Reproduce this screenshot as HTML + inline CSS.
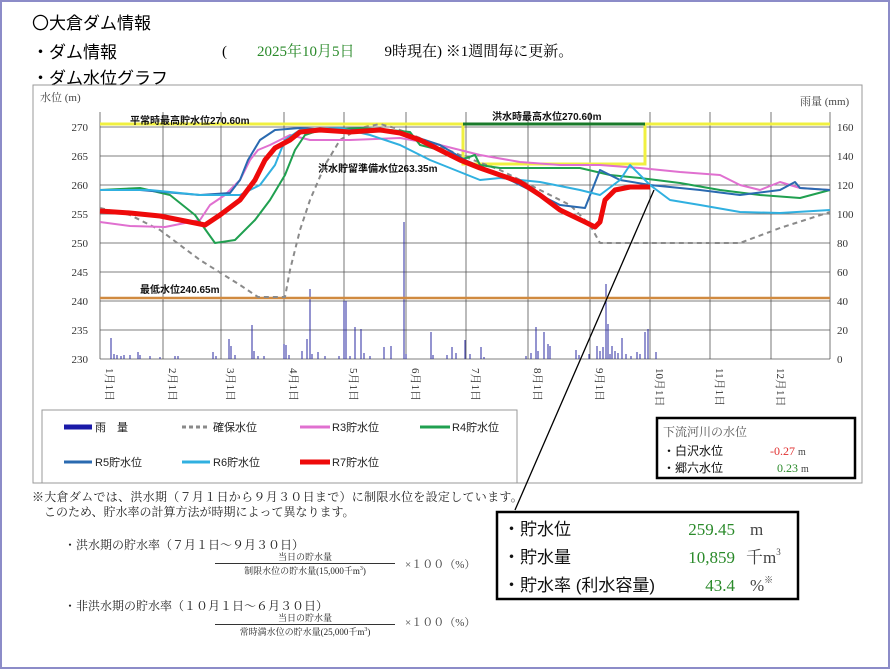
<!DOCTYPE html>
<html><head><meta charset="utf-8">
<style>
html,body{margin:0;padding:0;background:#fff;}
body{width:890px;height:669px;overflow:hidden;position:relative;font-family:"Liberation Serif","Noto Serif CJK SC",serif;}
.frame{position:absolute;left:0;top:0;width:886px;height:665px;border:2px solid #8c8cc8;}
.t{position:absolute;white-space:nowrap;}
.g{font-family:"Liberation Sans","Noto Sans CJK JP",sans-serif;}
</style></head><body>
<div class="frame"></div>
<div class="t g" style="left:32px;top:9px;font-size:17px;">〇大倉ダム情報</div>
<div class="t g" style="left:32px;top:38px;font-size:17px;">・ダム情報</div>
<div class="t" style="left:222px;top:40px;font-size:15px;">(　　<span style="color:#2a8a2a">2025年10月5日</span>　　9時現在) ※1週間毎に更新。</div>
<div class="t g" style="left:32px;top:64px;font-size:17px;">・ダム水位グラフ</div>

<svg width="890" height="669" style="position:absolute;left:0;top:0" xmlns="http://www.w3.org/2000/svg">
<rect x="33" y="85" width="829" height="398" fill="none" stroke="#999" stroke-width="1"/>
<text x="40" y="101" font-size="11" fill="#444" font-family="Liberation Serif, Noto Serif CJK JP, serif">水位 (m)</text>
<text x="800" y="105" font-size="11" fill="#444" font-family="Liberation Serif, Noto Serif CJK JP, serif">雨量 (mm)</text>
<g stroke="#555" stroke-width="0.8">
<line x1="100" y1="127" x2="830" y2="127"/><line x1="100" y1="156" x2="830" y2="156"/>
<line x1="100" y1="185" x2="830" y2="185"/><line x1="100" y1="214" x2="830" y2="214"/>
<line x1="100" y1="243" x2="830" y2="243"/><line x1="100" y1="272" x2="830" y2="272"/>
<line x1="100" y1="301" x2="830" y2="301"/><line x1="100" y1="330" x2="830" y2="330"/>
<line x1="100" y1="359" x2="830" y2="359"/>
<line x1="100" y1="112" x2="100" y2="359"/><line x1="163" y1="112" x2="163" y2="359"/>
<line x1="221" y1="112" x2="221" y2="359"/><line x1="284" y1="112" x2="284" y2="359"/>
<line x1="344" y1="112" x2="344" y2="359"/><line x1="406" y1="112" x2="406" y2="359"/>
<line x1="466" y1="112" x2="466" y2="359"/><line x1="528" y1="112" x2="528" y2="359"/>
<line x1="590" y1="112" x2="590" y2="359"/><line x1="650" y1="112" x2="650" y2="359"/>
<line x1="710" y1="112" x2="710" y2="359"/><line x1="771" y1="112" x2="771" y2="359"/>
<line x1="830" y1="112" x2="830" y2="359"/>
</g>
<g font-size="11" fill="#333" font-family="Liberation Serif, serif" text-anchor="end">
<text x="88" y="131">270</text><text x="88" y="160">265</text><text x="88" y="189">260</text>
<text x="88" y="218">255</text><text x="88" y="247">250</text><text x="88" y="276">245</text>
<text x="88" y="305">240</text><text x="88" y="334">235</text><text x="88" y="363">230</text>
</g>
<g font-size="11" fill="#333" font-family="Liberation Serif, serif">
<text x="837" y="131">160</text><text x="837" y="160">140</text><text x="837" y="189">120</text>
<text x="837" y="218">100</text><text x="837" y="247">80</text><text x="837" y="276">60</text>
<text x="837" y="305">40</text><text x="837" y="334">20</text><text x="837" y="363">0</text>
</g>
<g font-size="11" fill="#333" font-family="Liberation Serif, Noto Serif CJK JP, serif">
<text transform="translate(106,368) rotate(90)">1月1日</text>
<text transform="translate(169,368) rotate(90)">2月1日</text>
<text transform="translate(227,368) rotate(90)">3月1日</text>
<text transform="translate(290,368) rotate(90)">4月1日</text>
<text transform="translate(350,368) rotate(90)">5月1日</text>
<text transform="translate(412,368) rotate(90)">6月1日</text>
<text transform="translate(472,368) rotate(90)">7月1日</text>
<text transform="translate(534,368) rotate(90)">8月1日</text>
<text transform="translate(596,368) rotate(90)">9月1日</text>
<text transform="translate(656,368) rotate(90)">10月1日</text>
<text transform="translate(716,368) rotate(90)">11月1日</text>
<text transform="translate(777,368) rotate(90)">12月1日</text>
</g>
<g stroke="#2a2aa0" stroke-width="1">
<path d="M111 359v-21M114 359v-5M117 359v-4M121 359v-3M124 359v-4M130 359v-4M138 359v-7M140 359v-4M150 359v-3M160 359v-2M175 359v-3M178 359v-3M213 359v-7M216 359v-3M229 359v-20M231 359v-13M235 359v-4M252 359v-34M254 359v-8M258 359v-3M264 359v-3M284 359v-15M286 359v-14M289 359v-4M302 359v-8M307 359v-20M310 359v-70M312 359v-5M318 359v-7M325 359v-3M339 359v-3M344 359v-58M346 359v-58M350 359v-3M355 359v-32M361 359v-30M364 359v-6M370 359v-3M384 359v-12M391 359v-13M404 359v-137M406 359v-5M431 359v-27M433 359v-4M447 359v-4M452 359v-12M456 359v-6M465 359v-19M470 359v-5M481 359v-12M484 359v-2M526 359v-3M531 359v-6M536 359v-32M538 359v-8M544 359v-27M548 359v-15M550 359v-13M576 359v-9M579 359v-4M589 359v-5M597 359v-13M600 359v-8M603 359v-12M606 359v-75M608 359v-35M610 359v-5M612 359v-13M615 359v-8M618 359v-6M622 359v-21M626 359v-5M631 359v-3M637 359v-7M640 359v-5M645 359v-27M648 359v-30M656 359v-7"/>
</g>
<line x1="100" y1="298" x2="830" y2="298" stroke="#d08a40" stroke-width="2.5"/>
<text x="140" y="293" font-size="10" font-weight="bold" fill="#111" font-family="Liberation Sans, Noto Sans CJK JP, sans-serif">最低水位240.65m</text>
<path d="M100 124H463V164H645V124H830" fill="none" stroke="#f0f040" stroke-width="3"/>
<line x1="463" y1="124" x2="645" y2="124" stroke="#1a7a2a" stroke-width="3"/>
<text x="130" y="124" font-size="10" font-weight="bold" fill="#111" font-family="Liberation Sans, Noto Sans CJK JP, sans-serif">平常時最高貯水位270.60m</text>
<text x="492" y="120" font-size="10" font-weight="bold" fill="#111" font-family="Liberation Sans, Noto Sans CJK JP, sans-serif">洪水時最高水位270.60m</text>
<text x="318" y="172" font-size="10" font-weight="bold" fill="#111" font-family="Liberation Sans, Noto Sans CJK JP, sans-serif">洪水貯留準備水位263.35m</text>
<g fill="none" stroke-linejoin="round">
<polyline stroke="#8a8a8a" stroke-width="2" stroke-dasharray="5,4" points="100,208 130,215 160,230 200,260 240,285 258,297 285,297 290,270 300,230 310,200 325,165 340,140 360,128 380,124 395,128 420,138 460,155 500,170 540,190 570,205 590,225 600,243 740,243 780,228 830,212"/>
<polyline stroke="#e070d0" stroke-width="2" points="100,222 130,226 165,227 200,220 210,205 225,195 240,180 250,160 258,150 270,145 290,135 310,140 350,140 400,138 440,145 480,155 520,162 560,165 600,165 640,168 680,172 720,175 740,185 760,190 780,182 800,188 830,190"/>
<polyline stroke="#20a050" stroke-width="2" points="100,190 140,188 170,195 195,215 215,243 235,240 255,220 270,200 285,175 295,150 305,135 320,130 360,128 390,130 410,132 420,145 440,150 460,160 475,155 480,165 500,168 540,168 580,168 610,175 640,178 680,183 720,190 760,195 800,198 830,190"/>
<polyline stroke="#2a6ab0" stroke-width="2" points="100,190 140,190 200,195 230,193 240,180 248,160 260,140 275,130 300,128 330,130 360,130 400,132 440,145 465,160 500,175 530,190 560,205 585,208 600,170 620,180 650,185 700,190 740,195 780,190 795,182 800,188 830,190"/>
<polyline stroke="#30b0e0" stroke-width="2" points="100,190 150,190 200,195 240,195 260,185 275,165 285,140 300,130 340,128 370,135 400,145 430,160 460,172 480,180 500,178 540,182 580,190 600,195 620,180 630,165 650,185 670,200 700,205 740,212 780,213 830,210"/>
<polyline stroke="#ee0a0a" stroke-width="5" points="100,211 130,213 160,216 205,225 220,215 240,200 255,180 265,160 275,148 290,140 300,132 310,131 320,130 350,132 380,130 400,133 420,140 440,150 460,160 480,168 500,175 520,182 540,195 560,210 585,222 595,227 600,222 605,200 615,190 630,187 650,187"/>
</g>
<line x1="654" y1="190" x2="515" y2="510" stroke="#000" stroke-width="1.3"/>
<rect x="42" y="410" width="475" height="73" fill="#fff" stroke="#999"/>
<g stroke-width="3">
<line x1="64" y1="427" x2="92" y2="427" stroke="#1a1aa8" stroke-width="5"/>
<line x1="182" y1="427" x2="210" y2="427" stroke="#8a8a8a" stroke-dasharray="4,3"/>
<line x1="300" y1="427" x2="330" y2="427" stroke="#e070d0"/>
<line x1="420" y1="427" x2="450" y2="427" stroke="#20a050"/>
<line x1="64" y1="462" x2="92" y2="462" stroke="#2a6ab0"/>
<line x1="182" y1="462" x2="210" y2="462" stroke="#30b0e0"/>
<line x1="300" y1="462" x2="330" y2="462" stroke="#ee0a0a" stroke-width="5"/>
</g>
<g font-size="11" fill="#222" font-family="Liberation Sans, Noto Sans CJK JP, sans-serif">
<text x="95" y="431">雨　量</text><text x="213" y="431">確保水位</text>
<text x="332" y="431">R3貯水位</text><text x="452" y="431">R4貯水位</text>
<text x="95" y="466">R5貯水位</text><text x="213" y="466">R6貯水位</text>
<text x="332" y="466">R7貯水位</text>
</g>
<rect x="657" y="418" width="198" height="60" fill="#fff" stroke="#000" stroke-width="2.5"/>
<text x="663" y="436" font-size="12" fill="#555" font-family="Liberation Serif, Noto Serif CJK JP, serif">下流河川の水位</text>
<text x="663" y="455" font-size="12" fill="#111" font-family="Liberation Sans, Noto Sans CJK JP, sans-serif">・白沢水位</text>
<text x="663" y="472" font-size="12" fill="#111" font-family="Liberation Sans, Noto Sans CJK JP, sans-serif">・郷六水位</text>
<text x="770" y="455" font-size="12" fill="#e03030" font-family="Liberation Serif, serif">-0.27 <tspan fill="#444" font-size="10">m</tspan></text>
<text x="777" y="472" font-size="12" fill="#2a8a2a" font-family="Liberation Serif, serif">0.23 <tspan fill="#444" font-size="10">m</tspan></text>
<rect x="497" y="512" width="301" height="87" fill="#fff" stroke="#000" stroke-width="2.5"/>
<g font-size="17" fill="#111" font-family="Liberation Sans, Noto Sans CJK JP, sans-serif">
<text x="503" y="535">・貯水位</text><text x="503" y="563">・貯水量</text><text x="503" y="591">・貯水率 (利水容量)</text>
</g>
<g font-size="17" fill="#2a8a2a" font-family="Liberation Serif, serif" text-anchor="end">
<text x="735" y="535">259.45</text><text x="735" y="563">10,859</text><text x="735" y="591">43.4</text>
</g>
<g font-size="17" fill="#444" font-family="Liberation Serif, Noto Serif CJK JP, serif">
<text x="750" y="535">m</text><text x="746" y="563">千m<tspan font-size="9" dy="-8">3</tspan></text><text x="750" y="591">%<tspan font-size="9" dy="-8">※</tspan></text>
</g>
</svg>

<div class="t" style="left:32px;top:488px;font-size:12px;color:#222;letter-spacing:0.3px;">※大倉ダムでは、洪水期（７月１日から９月３０日まで）に制限水位を設定しています。</div>
<div class="t" style="left:44px;top:503px;font-size:12px;color:#222;">このため、貯水率の計算方法が時期によって異なります。</div>
<div class="t" style="left:64px;top:536px;font-size:12px;color:#222;">・洪水期の貯水率（７月１日～９月３０日）</div>
<div class="t" style="left:215px;top:550px;width:180px;text-align:center;font-size:9px;color:#222;border-bottom:1px solid #333;">当日の貯水量</div>
<div class="t" style="left:215px;top:564px;width:180px;text-align:center;font-size:9px;color:#222;">制限水位の貯水量(15,000千m<sup style="font-size:6px">3</sup>)</div>
<div class="t" style="left:405px;top:556px;font-size:11px;color:#444;">×１００（%）</div>
<div class="t" style="left:64px;top:597px;font-size:12px;color:#222;">・非洪水期の貯水率（１０月１日～６月３０日）</div>
<div class="t" style="left:215px;top:611px;width:180px;text-align:center;font-size:9px;color:#222;border-bottom:1px solid #333;">当日の貯水量</div>
<div class="t" style="left:215px;top:625px;width:180px;text-align:center;font-size:9px;color:#222;">常時満水位の貯水量(25,000千m<sup style="font-size:6px">3</sup>)</div>
<div class="t" style="left:405px;top:614px;font-size:11px;color:#444;">×１００（%）</div>
</body></html>
